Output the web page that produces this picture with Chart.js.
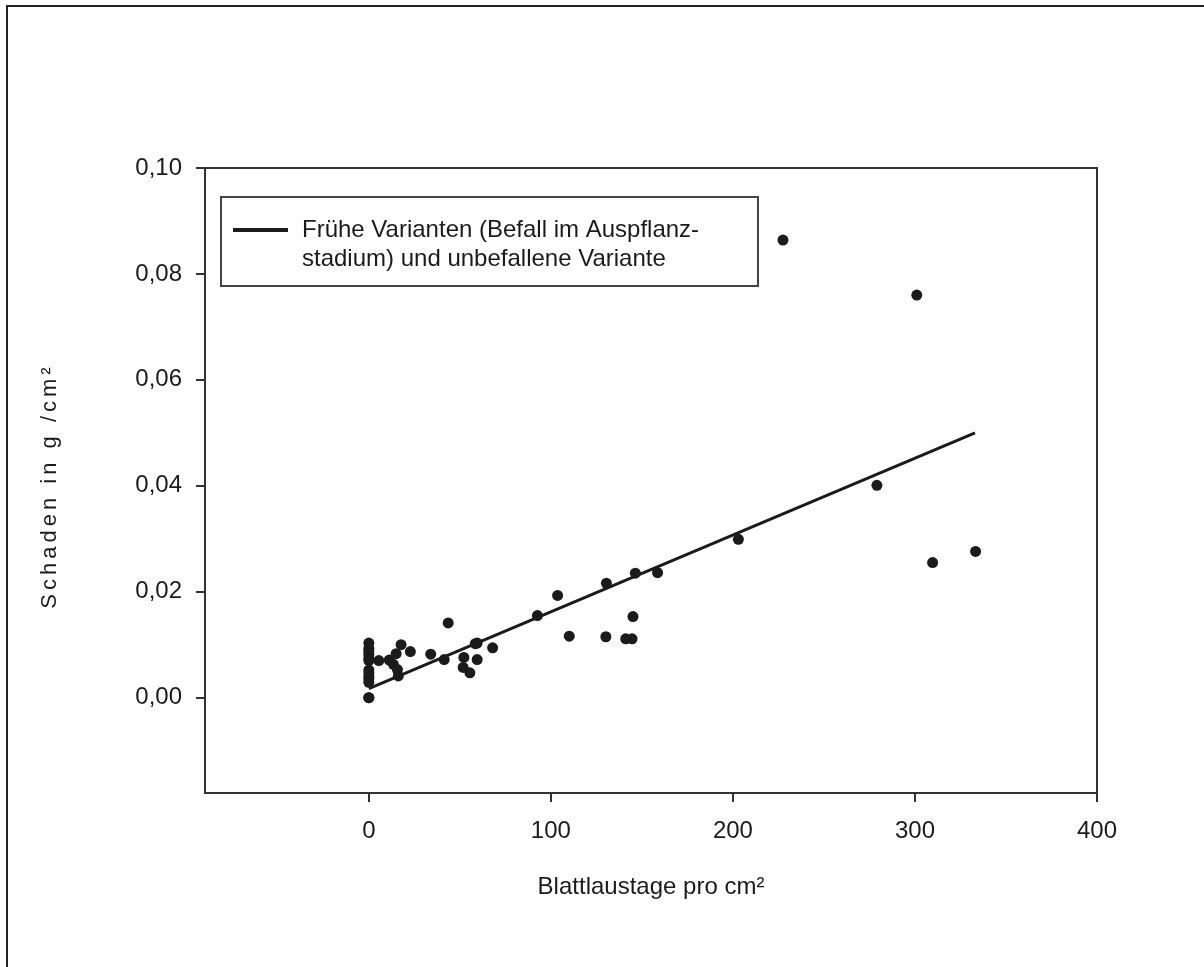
<!DOCTYPE html>
<html>

<head>
    <title>Schaden und Blattlaustage</title>
    <style>
        body { margin: 0; background: #fff; }
    </style>
</head>

<body>
    <canvas id="myChart" width="1204" height="967"></canvas>
    <script src="https://cdn.jsdelivr.net/npm/chart.js@4"></script>

    <script type="text/javascript">
        // Blattlaustage pro cm² (x) and Schaden in g/cm² (y), one entry per point
        const pointsX = [0, 0, 0, 0, 0, 0, 0, 0, 0, 0, 0, 0, 0,
            5.5, 11.2, 13.5, 15, 15.7, 16.2, 17.7, 22.8, 34, 41.4, 43.6, 51.8, 52.2, 55.5,
            58.5, 59.5, 59.5, 68, 92.6, 103.7, 110.1, 130.5, 130.2, 141.1, 144.6, 145.1,
            146.4, 158.6, 203, 227.5, 279.1, 301, 309.7, 333.3];
        const pointsY = [0.0103, 0.0093, 0.0088, 0.0082, 0.0075, 0.0070, 0.0052, 0.0047, 0.0040, 0.0035, 0.0029, 0, 0,
            0.0070, 0.0071, 0.0063, 0.0083, 0.0053, 0.0041, 0.0100, 0.0087, 0.0082, 0.0072, 0.0141, 0.0057, 0.0076, 0.0047,
            0.0102, 0.0103, 0.0072, 0.0094, 0.0155, 0.0193, 0.0116, 0.0216, 0.0115, 0.0111, 0.0111, 0.0153,
            0.0235, 0.0236, 0.0299, 0.0864, 0.0401, 0.0760, 0.0255, 0.0276];

        // regression line end points
        const lineX = [0, 333];
        const lineY = [0.0017, 0.050];

        const xTicks = [0, 100, 200, 300, 400];
        const yTicks = [0, 0.02, 0.04, 0.06, 0.08, 0.10];

        const legendLines = ['Frühe Varianten (Befall im Auspflanz-', 'stadium) und unbefallene Variante'];
        const xTitle = 'Blattlaustage pro cm²';
        const yTitle = 'Schaden in g /cm²';

        const ink = '#1b1b1b';
        const font = '"Liberation Sans", Arial, sans-serif';

        const scatterData = pointsX.map((x, i) => ({ x: x, y: pointsY[i] }));
        const lineData = lineX.map((x, i) => ({ x: x, y: lineY[i] }));

        const decorations = {
            id: 'decorations',
            afterDraw(chart) {
                const ctx = chart.ctx;
                const a = chart.chartArea;
                ctx.save();
                // outer frame
                ctx.fillStyle = '#222';
                ctx.fillRect(6, 5, 2, 962);
                ctx.fillRect(6, 5, 1198, 2);
                // plot frame
                ctx.strokeStyle = '#333';
                ctx.lineWidth = 2;
                ctx.strokeRect(a.left, a.top, a.right - a.left, a.bottom - a.top);
                // legend box
                ctx.strokeStyle = '#444';
                ctx.strokeRect(221, 197, 537, 89);
                ctx.strokeStyle = ink;
                ctx.lineWidth = 4;
                ctx.beginPath();
                ctx.moveTo(233, 230);
                ctx.lineTo(288, 230);
                ctx.stroke();
                ctx.fillStyle = ink;
                ctx.font = '24px ' + font;
                ctx.textBaseline = 'middle';
                ctx.textAlign = 'left';
                ctx.fillText(legendLines[0], 302, 230);
                ctx.fillText(legendLines[1], 302, 259);
                // y title, letter spaced
                ctx.font = '22px ' + font;
                ctx.translate(50, 486);
                ctx.rotate(-Math.PI / 2);
                ctx.textAlign = 'center';
                ctx.letterSpacing = '4px';
                ctx.fillText(yTitle, 0, 0);
                ctx.restore();
            }
        };

        const ctx = document.getElementById('myChart').getContext('2d');
        const myChart = new Chart(ctx, {
            type: 'scatter',
            data: {
                datasets: [{
                    label: 'Messwerte',
                    data: scatterData,
                    backgroundColor: ink,
                    borderColor: ink,
                    pointRadius: 5.5,
                    pointHoverRadius: 5.5,
                    borderWidth: 0
                }, {
                    label: legendLines.join(' '),
                    data: lineData,
                    showLine: true,
                    borderColor: ink,
                    borderWidth: 3,
                    pointRadius: 0,
                    fill: false
                }]
            },
            options: {
                responsive: false,
                animation: false,
                layout: { padding: { left: 0, top: 168, right: 107, bottom: 64 } },
                plugins: {
                    legend: { display: false },
                    tooltip: { enabled: false }
                },
                scales: {
                    x: {
                        type: 'linear',
                        min: -90,
                        max: 400,
                        afterBuildTicks: s => { s.ticks = xTicks.map(v => ({ value: v })); },
                        afterFit: s => { s.height = 110; },
                        border: { display: true, color: '#333', width: 2 },
                        grid: { drawOnChartArea: false, drawTicks: true, tickLength: 9, color: '#333', lineWidth: 2 },
                        ticks: {
                            color: ink,
                            padding: 15,
                            maxRotation: 0,
                            font: { family: font, size: 24 },
                            callback: v => String(v)
                        },
                        title: {
                            display: true,
                            text: xTitle,
                            color: ink,
                            padding: { top: 0, bottom: 1 },
                            font: { family: font, size: 24 }
                        }
                    },
                    y: {
                        type: 'linear',
                        min: -0.018,
                        max: 0.10,
                        afterBuildTicks: s => { s.ticks = yTicks.map(v => ({ value: v })); },
                        afterFit: s => { s.width = 205; },
                        border: { display: true, color: '#333', width: 2 },
                        grid: { drawOnChartArea: false, drawTicks: true, tickLength: 9, color: '#333', lineWidth: 2 },
                        ticks: {
                            color: ink,
                            padding: 14,
                            font: { family: font, size: 24 },
                            callback: v => v.toFixed(2).replace('.', ',')
                        }
                    }
                }
            },
            plugins: [decorations]
        });
    </script>
</body>

</html>
